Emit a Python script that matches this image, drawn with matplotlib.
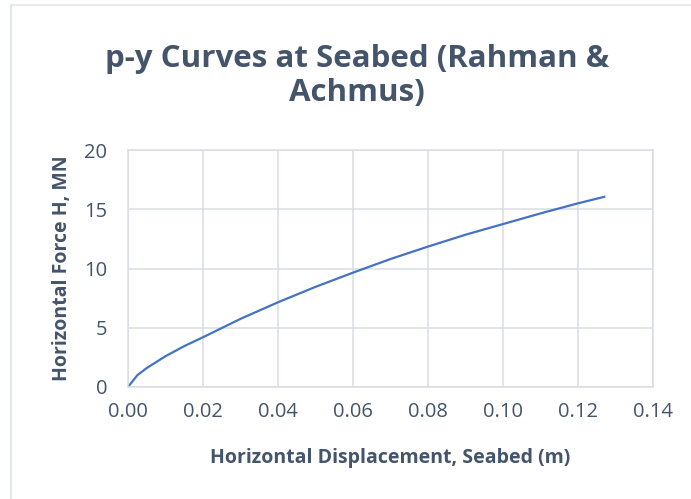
import matplotlib
matplotlib.use('Agg')
import matplotlib.pyplot as plt
from matplotlib.lines import Line2D

# values
disp = [0, 0.0025, 0.005, 0.01, 0.015, 0.02, 0.03, 0.04, 0.05, 0.06,
        0.07, 0.08, 0.09, 0.10, 0.11, 0.12, 0.127]
force = [0, 1.0, 1.6, 2.6, 3.45, 4.2, 5.75, 7.15, 8.45, 9.65,
         10.8, 11.85, 12.85, 13.75, 14.65, 15.5, 16.05]

x_ticks = [0.00, 0.02, 0.04, 0.06, 0.08, 0.10, 0.12, 0.14]
y_ticks = [0, 5, 10, 15, 20]

text_col = '#44546A'
grid_col = '#D9DDE3'

plt.rcParams['font.family'] = ['Open Sans', 'DejaVu Sans']

W, H = 691, 499
fig = plt.figure(figsize=(W / 100, H / 100), dpi=100)
ax = fig.add_axes([128 / W, (H - 387) / H, 525 / W, 237 / H])

ax.plot(disp, force, color='#4472C4', linewidth=1.6)

ax.set_xlim(0, 0.14)
ax.set_ylim(0, 20)
ax.set_xticks(x_ticks)
ax.set_xticklabels(['%.2f' % v for v in x_ticks])
ax.set_yticks(y_ticks)
ax.grid(True, color=grid_col, linewidth=1.1)
ax.set_axisbelow(True)
for s in ax.spines.values():
    s.set_color(grid_col)
    s.set_linewidth(1.1)
ax.tick_params(length=0, labelsize=14.5, labelcolor=text_col)
ax.tick_params(axis='x', pad=11)
ax.tick_params(axis='y', pad=15)

ax.set_xlabel('Horizontal Displacement, Seabed (m)', fontsize=14,
              fontweight='bold', color=text_col, va='center')
ax.xaxis.set_label_coords(0.5, (387 - 458) / 237)
ax.set_ylabel('Horizontal Force H, MN', fontsize=14,
              fontweight='bold', color=text_col, va='center')
ax.yaxis.set_label_coords((62 - 128) / 525, (387 - 268) / 237)

fig.text(357 / W, 1 - 76 / H, 'p-y Curves at Seabed (Rahman &\nAchmus)',
         ha='center', va='center', fontsize=22.5, fontweight='bold',
         color=text_col, linespacing=1.2)

# chart area border (only top and left edges are visible in the crop)
fig.lines.append(Line2D([11 / W, 11 / W], [0, 1 - 5 / H], transform=fig.transFigure,
                        color='#E3E7EC', linewidth=1.6))
fig.lines.append(Line2D([11 / W, 1], [1 - 5 / H, 1 - 5 / H], transform=fig.transFigure,
                        color='#E3E7EC', linewidth=1.2))

fig.savefig('out.png', dpi=100, facecolor='white')
